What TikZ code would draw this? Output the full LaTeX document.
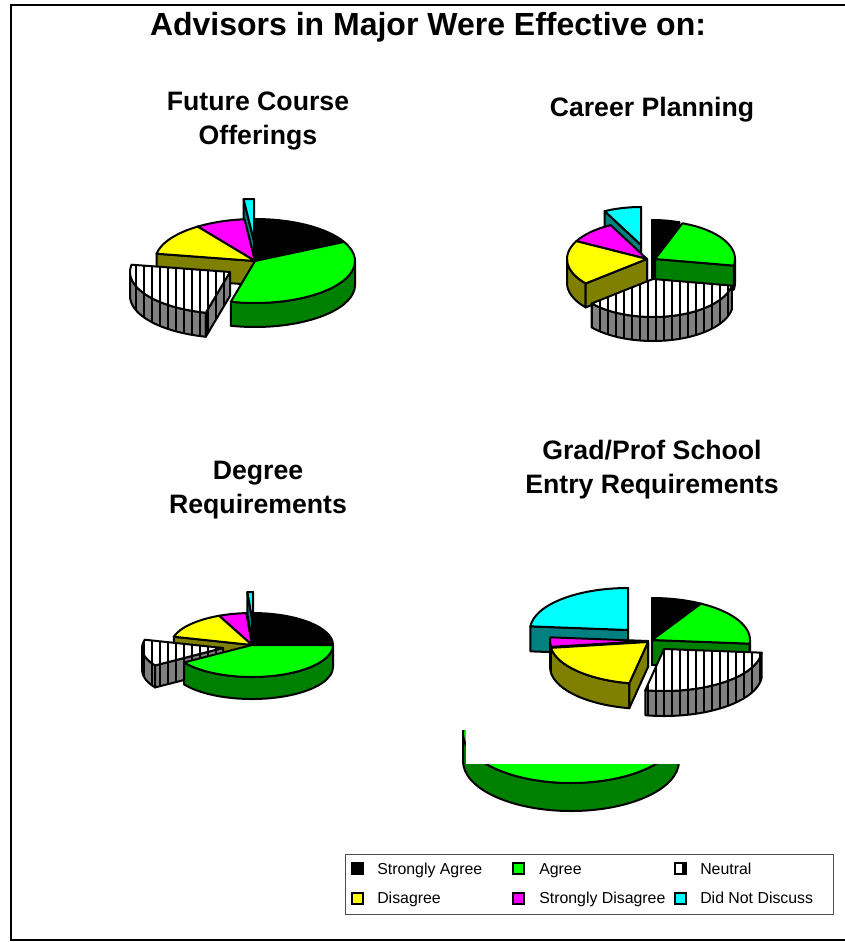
\documentclass[tikz,border=0pt]{standalone}
\usepackage{fontspec}
\setmainfont{Liberation Sans}
\usepackage{tikz}
\usetikzlibrary{patterns.meta}

\definecolor{agree}{RGB}{0,255,0}
\definecolor{agreedark}{RGB}{0,128,0}
\definecolor{disagree}{RGB}{255,255,0}
\definecolor{disagreedark}{RGB}{128,128,0}
\definecolor{sdisagree}{RGB}{255,0,255}
\definecolor{sdisagreedark}{RGB}{128,0,128}
\definecolor{nodiscuss}{RGB}{0,255,255}
\definecolor{nodiscussdark}{RGB}{0,128,128}
\definecolor{neutraldark}{RGB}{128,128,128}

% pie size: x radius, y radius, depth
\newcommand{\setpie}[3]{\def\prx{#1}\def\pry{#2}\def\pdep{#3}}
% one slice: apex, start angle, end angle, kind (angles on screen, 270 = top)
\newcommand{\drawslice}[4]{%
  \pgfmathsetmacro{\sfrom}{max(#2,360)}%
  \pgfmathsetmacro{\sto}{min(#3,540)}%
  \ifdim\sfrom pt<\sto pt
    \draw[#4 side] (#1) ++({\prx*cos(\sfrom)},{\pry*sin(\sfrom)}) arc[start angle=\sfrom,end angle=\sto,x radius=\prx,y radius=\pry] -- ++(0,\pdep) arc[start angle=\sto,end angle=\sfrom,x radius=\prx,y radius=\pry] -- cycle;
  \fi
  \pgfmathsetmacro{\cfrom}{cos(#2)}%
  \ifdim\cfrom pt<0pt
    \draw[#4 side] (#1) -- ++({\prx*cos(#2)},{\pry*sin(#2)}) -- ++(0,\pdep) -- ++({-\prx*cos(#2)},{-\pry*sin(#2)}) -- cycle;
  \fi
  \pgfmathsetmacro{\cto}{cos(#3)}%
  \ifdim\cto pt>0pt
    \draw[#4 side] (#1) -- ++({\prx*cos(#3)},{\pry*sin(#3)}) -- ++(0,\pdep) -- ++({-\prx*cos(#3)},{-\pry*sin(#3)}) -- cycle;
  \fi
  \draw[#4 top] (#1) -- ++({\prx*cos(#2)},{\pry*sin(#2)}) arc[start angle=#2,end angle=#3,x radius=\prx,y radius=\pry] -- cycle;
}

\begin{document}
\begin{tikzpicture}[x=0.75pt,y=0.75pt,yscale=-1,xscale=1,
    slice/.style={draw=black,line width=1.5pt,line join=round},
    sa top/.style={slice,fill=black},
    sa side/.style={slice,fill=black},
    ag top/.style={slice,fill=agree},
    ag side/.style={slice,fill=agreedark},
    ne top/.style={slice,preaction={fill=white},pattern={Lines[angle=90,distance=6pt,line width=2.2pt]}},
    ne side/.style={slice,preaction={fill=neutraldark},pattern={Lines[angle=90,distance=6pt,line width=2.2pt]}},
    di top/.style={slice,fill=disagree},
    di side/.style={slice,fill=disagreedark},
    sd top/.style={slice,fill=sdisagree},
    sd side/.style={slice,fill=sdisagreedark},
    dn top/.style={slice,fill=nodiscuss},
    dn side/.style={slice,fill=nodiscussdark},
    heading/.style={font=\bfseries\fontsize{24}{29}\selectfont,inner sep=0pt},
    subtitle/.style={font=\bfseries\fontsize{20}{25.5}\selectfont,align=center,inner sep=0pt},
    keytext/.style={font=\fontsize{11.9}{14}\selectfont,anchor=base west,inner sep=0pt},
    keybox/.style={draw=black,line width=1.5pt}]
    \useasboundingbox (0,0) rectangle (845,942);

    %Frame
    \draw[line width=1.5pt] (846,5) -- (11,5) -- (11,940) -- (846,940);

    % Text Node
    \node[heading] (title) at (428,27) {Advisors in Major Were Effective on:};
    % Text Node
    \node[subtitle] (future) at (258,121) {Future Course\\Offerings};
    % Text Node
    \node[subtitle] (career) at (652,110) {Career Planning};
    % Text Node
    \node[subtitle] (degree) at (258,490) {Degree\\Requirements};
    % Text Node
    \node[subtitle] (grad) at (652,470) {Grad/Prof School\\Entry Requirements};

    %Pie: Future Course Offerings
    \setpie{100}{42}{24}
    \drawslice{254,241}{624}{630}{dn}
    \drawslice{255,261}{270}{333}{sa}
    \drawslice{255,261}{595}{624}{sd}
    \drawslice{255,261}{550}{595}{di}
    \drawslice{255,261}{333}{464}{ag}
    \drawslice{230,272}{464}{550}{ne}

    %Pie: Career Planning
    \setpie{80}{38}{24}
    \drawslice{641,245}{603}{630}{dn}
    \drawslice{647,259}{568}{603}{sd}
    \drawslice{652,258}{270}{290}{sa}
    \drawslice{647,259}{500}{568}{di}
    \drawslice{655,259}{290}{370}{ag}
    \drawslice{653,279}{370}{500}{ne}

    %Pie: Degree Requirements
    \setpie{81}{32}{22}
    \drawslice{253,624}{626}{630}{dn}
    \drawslice{252,645}{606}{626}{sd}
    \drawslice{252,645}{270}{360}{sa}
    \drawslice{252,645}{555}{606}{di}
    \drawslice{223,648}{507}{555}{ne}
    \drawslice{252,645}{360}{507}{ag}

    %Pie: Grad/Prof School Entry Requirements
    \setpie{98}{42}{25}
    \drawslice{628,630}{545}{630}{dn}
    \drawslice{652,640}{270}{300}{sa}
    \drawslice{648,641}{532}{545}{sd}
    \drawslice{652,640}{300}{365}{ag}
    \drawslice{648,642}{461}{532}{di}
    \drawslice{664,649}{365}{461}{ne}

    %Shape: stray slice under the last pie
    \begin{scope}
      \clip (440,730) rectangle (700,830);
      \draw[ag side] (463,733) -- ++(0,28) arc[start angle=180,end angle=0,x radius=108,y radius=50] -- ++(0,-28) arc[start angle=0,end angle=180,x radius=108,y radius=50] -- cycle;
      \draw[ag top] (571,733) ellipse[x radius=108,y radius=50];
      \fill[white] (466,729) rectangle (684,764);
    \end{scope}

    %Legend
    \draw[draw=black!70,line width=0.75pt] (345,854) rectangle (833,914);
    \draw[keybox,fill=black] (352,863) rectangle (363,874);
    \node[keytext] (ksa) at (377,874) {Strongly Agree};
    \draw[keybox,fill=agree] (513,863) rectangle (524,874);
    \node[keytext] (kag) at (539,874) {Agree};
    \draw[keybox,fill=white] (675,863) rectangle (686,874);
    \fill[black] (682,863) rectangle (686,874);
    \node[keytext] (kne) at (700,874) {Neutral};
    \draw[keybox,fill=disagree] (352,893) rectangle (363,904);
    \node[keytext] (kdi) at (377,903) {Disagree};
    \draw[keybox,fill=sdisagree] (513,893) rectangle (524,904);
    \node[keytext] (ksd) at (539,903) {Strongly Disagree};
    \draw[keybox,fill=nodiscuss] (675,893) rectangle (686,904);
    \node[keytext] (kdn) at (700,903) {Did Not Discuss};
\end{tikzpicture}
\end{document}
